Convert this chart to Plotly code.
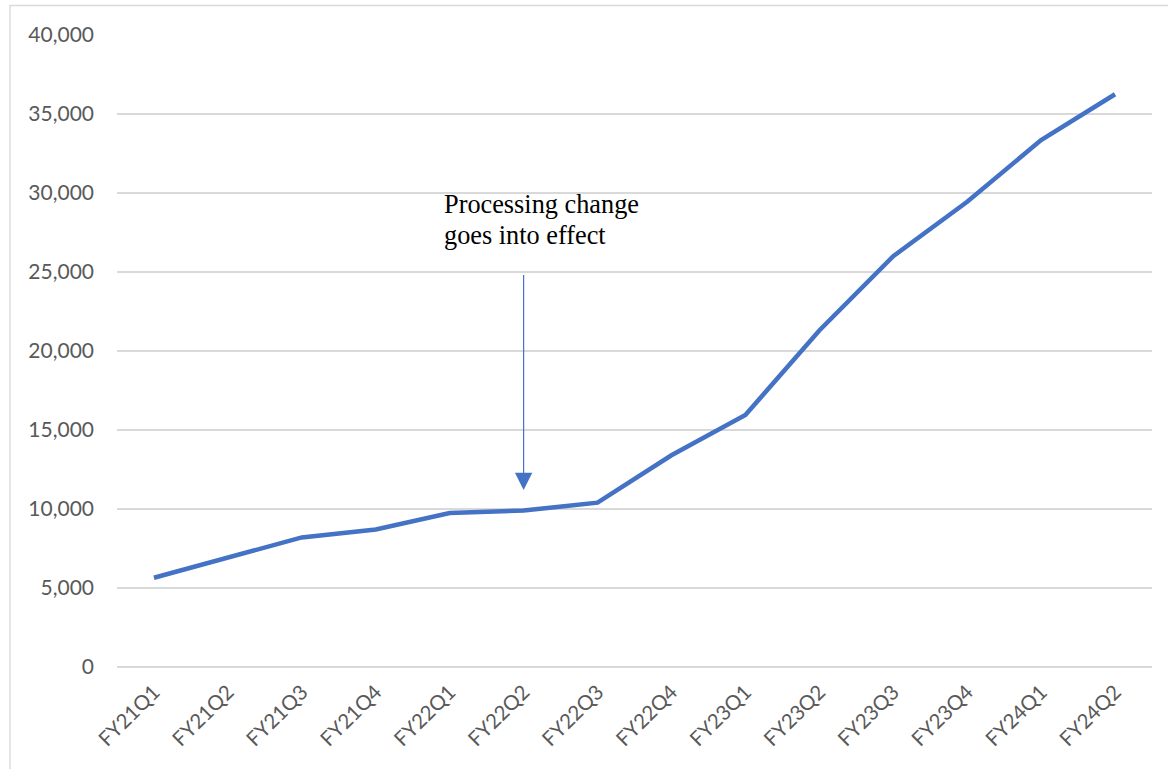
import plotly.graph_objects as go

# Quarterly counts
quarters = ["FY21Q1", "FY21Q2", "FY21Q3", "FY21Q4", "FY22Q1", "FY22Q2", "FY22Q3",
            "FY22Q4", "FY23Q1", "FY23Q2", "FY23Q3", "FY23Q4", "FY24Q1", "FY24Q2"]
counts = [5650, 6950, 8200, 8700, 9750, 9900, 10400,
          13400, 15950, 21300, 26000, 29450, 33350, 36250]

y_ticks = [0, 5000, 10000, 15000, 20000, 25000, 30000, 35000, 40000]
y_tick_text = ["0", "5,000", "10,000", "15,000", "20,000", "25,000", "30,000", "35,000", "40,000"]

note_lines = ["Processing change", "goes into effect"]
note_quarter = "FY22Q2"
arrow_from, arrow_to = 24900, 11200

W, H = 1168, 769
ML, MR, MT, MB = 117, 16, 35, 102
PW, PH = W - ML - MR, H - MT - MB


def px_x(x):
    return (x - ML) / PW


def px_y(y):
    return (H - MB - y) / PH


LINE_BLUE = "#4472C4"
GRID = "#d9d9d9"
TICK = "#595959"

fig = go.Figure()
fig.add_trace(go.Scatter(
    x=quarters, y=counts, mode="lines",
    line=dict(color=LINE_BLUE, width=4.5),
    hoverinfo="x+y", showlegend=False,
))

# Arrow pointing at the quarter where the change took effect
fig.add_annotation(
    x=note_quarter, y=arrow_to, ax=note_quarter, ay=arrow_from,
    xref="x", yref="y", axref="x", ayref="y",
    text="", showarrow=True, arrowhead=2, arrowsize=2.9, arrowwidth=1.2,
    arrowcolor=LINE_BLUE, standoff=0,
)

# Note text, one annotation per line
for line_text, y_center in zip(note_lines, [204, 235.5]):
    fig.add_annotation(
        x=px_x(442), y=px_y(y_center), xref="paper", yref="paper",
        xanchor="left", yanchor="middle", showarrow=False,
        text=line_text,
        font=dict(family="Liberation Serif", size=26.3, color="#000000"),
    )

# Light chart border
fig.add_shape(
    type="rect", xref="paper", yref="paper",
    x0=px_x(10), x1=px_x(1180), y0=px_y(780), y1=px_y(5.5),
    line=dict(color=GRID, width=1.3), fillcolor="rgba(0,0,0,0)", layer="below",
)

fig.update_layout(
    width=W, height=H,
    margin=dict(l=ML, r=MR, t=MT, b=MB),
    paper_bgcolor="white", plot_bgcolor="white",
    font=dict(family="Lato", color=TICK, size=21),
    xaxis=dict(
        range=[-0.5, len(quarters) - 0.5],
        showgrid=False, showline=False, zeroline=False,
        tickangle=-45, tickfont=dict(family="Lato", size=20.5, color=TICK),
        ticks="", ticklabelstandoff=8,
    ),
    yaxis=dict(
        range=[0, 40000], tickvals=y_ticks, ticktext=y_tick_text,
        showgrid=True, gridcolor=GRID, gridwidth=1.5,
        zeroline=True, zerolinecolor=GRID, zerolinewidth=1.5,
        showline=False, ticks="", ticklabelstandoff=22,
        tickfont=dict(family="Lato", size=21, color=TICK),
    ),
)

fig.write_html("out.html")
